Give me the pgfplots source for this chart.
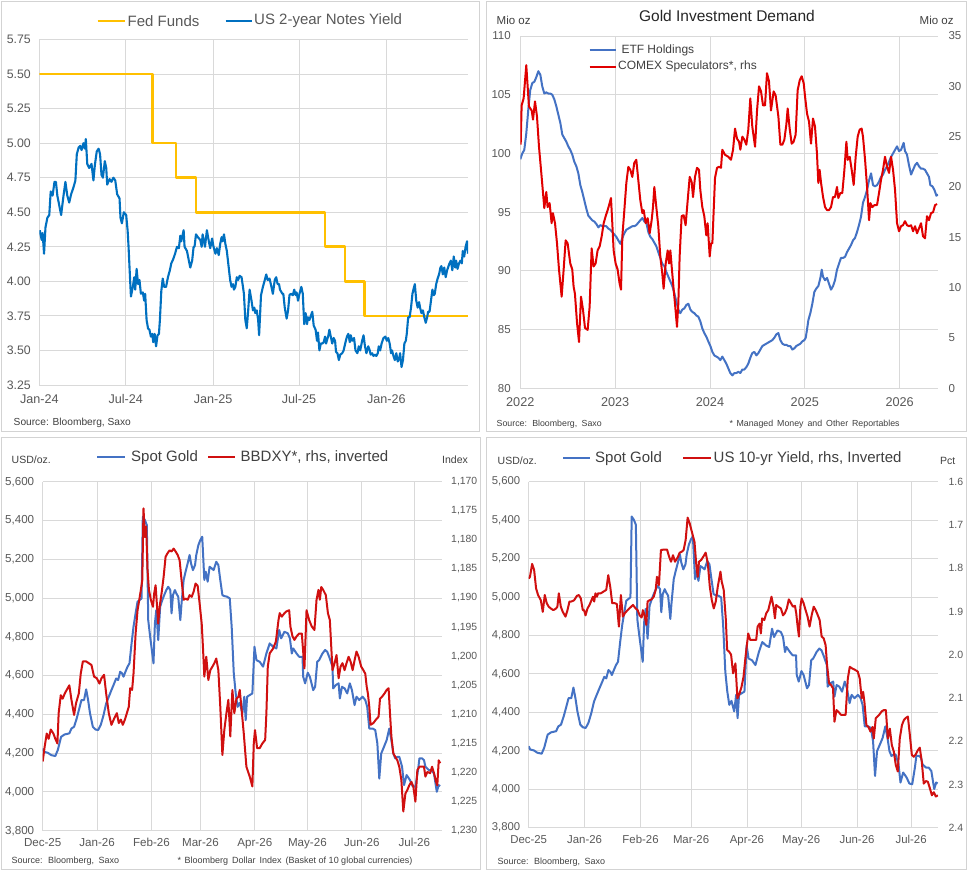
\documentclass[border=0pt]{standalone}
\usepackage{fontspec}
\setmainfont{Liberation Sans}
\usepackage{pgfplots}
\usepackage{pgfplotstable}
\pgfplotsset{compat=1.18}

\definecolor{gridgray}{HTML}{D9D9D9}
\definecolor{framegray}{HTML}{D3D3D3}
\definecolor{ticktext}{HTML}{595959}
\definecolor{labeltext}{HTML}{404040}
\definecolor{fedorange}{HTML}{FFC000}
\definecolor{twoyblue}{HTML}{0070C0}
\definecolor{etfblue}{HTML}{4472C4}
\definecolor{specred}{HTML}{E00000}
\definecolor{goldblue}{HTML}{4472C4}
\definecolor{dxyred}{HTML}{D01010}

\newcommand\fs[1]{\fontsize{#1}{#1}\selectfont}

\pgfplotsset{
  panel/.style={
    scale only axis, anchor=south west,
    axis line style={draw=none},
    major tick length=0pt, tick style={draw=none},
    grid=major, major grid style={draw=gridgray, line width=0.9pt},
    /pgf/number format/assume math mode=true,
    tick label style={color=ticktext},
    every axis plot/.append style={mark=none, line join=round},
  },
  rhs/.style={
    scale only axis, anchor=south west,
    axis x line=none, axis y line*=right,
    axis line style={draw=none},
    major tick length=0pt, tick style={draw=none},
    /pgf/number format/assume math mode=true,
    tick label style={color=ticktext},
    every axis plot/.append style={mark=none, line join=round},
  },
}

% ---------- Fed funds target (upper bound) and US 2-year yield, days since 1 Jan 2024
\pgfplotstableread{
d v
0 5.50
239 5.00
288 4.75
330 4.50
602 4.25
644 4.00
685 3.75
903 3.75
}\fedfunds

\pgfplotstableread{
d v
1 4.37
5 4.30
7 4.35
10 4.20
13 4.39
17 4.46
21 4.48
24 4.65
28 4.62
32 4.72
35 4.72
38 4.62
42 4.55
46 4.48
51 4.62
55 4.72
59 4.62
63 4.57
67 4.63
72 4.68
76 4.73
79 4.92
83 4.97
86 4.98
89 4.95
93 5.00
96 4.96
98 5.03
101 4.85
105 4.82
110 4.85
114 4.73
117 4.84
121 4.94
125 4.96
128 4.92
131 4.77
134 4.75
138 4.87
141 4.82
143 4.70
148 4.74
152 4.72
156 4.75
160 4.73
164 4.63
169 4.60
171 4.46
174 4.42
178 4.50
183 4.48
186 4.37
188 4.25
191 4.03
193 3.89
197 3.96
200 4.03
202 3.94
205 4.09
208 3.98
211 4.01
214 3.91
218 3.92
221 3.86
223 3.91
226 3.72
229 3.66
232 3.65
235 3.60
238 3.62
240 3.56
243 3.62
246 3.53
249 3.61
252 3.62
254 3.72
257 3.93
260 4.02
263 3.96
267 3.96
271 4.03
275 4.08
278 4.13
282 4.16
286 4.20
290 4.25
294 4.24
297 4.33
299 4.29
304 4.37
306 4.25
311 4.22
315 4.15
318 4.10
322 4.15
325 4.25
327 4.25
330 4.34
334 4.32
339 4.30
342 4.25
344 4.34
349 4.25
353 4.37
357 4.29
360 4.24
364 4.31
367 4.25
371 4.20
374 4.24
378 4.19
381 4.27
384 4.32
386 4.29
389 4.34
392 4.27
395 4.22
398 4.13
402 4.01
405 3.96
408 3.98
410 3.94
413 3.96
416 4.03
419 4.01
422 4.04
426 4.03
429 3.96
431 3.91
434 3.72
437 3.66
440 3.79
443 3.94
447 3.86
450 3.79
453 3.81
455 3.77
458 3.79
461 3.72
463 3.61
467 3.90
471 3.96
475 4.01
478 4.05
481 4.01
485 4.02
489 3.96
492 3.91
496 4.01
499 4.03
502 3.98
505 3.98
507 3.94
512 3.91
514 3.91
517 3.81
521 3.73
524 3.79
527 3.90
530 3.91
534 3.90
537 3.94
540 3.90
542 3.92
545 3.86
548 3.91
552 3.96
555 3.91
558 3.69
561 3.77
564 3.69
566 3.74
569 3.72
572 3.75
575 3.78
578 3.68
582 3.65
585 3.57
587 3.63
590 3.50
593 3.55
596 3.55
599 3.56
602 3.60
604 3.55
609 3.61
611 3.65
614 3.60
617 3.55
620 3.59
623 3.57
625 3.49
628 3.48
631 3.43
634 3.47
638 3.48
641 3.50
645 3.56
648 3.60
651 3.62
654 3.56
656 3.61
659 3.57
663 3.59
666 3.50
670 3.48
673 3.53
676 3.50
680 3.57
683 3.61
686 3.53
689 3.48
693 3.53
696 3.50
698 3.47
701 3.48
704 3.46
707 3.47
710 3.46
713 3.48
715 3.53
718 3.50
721 3.55
725 3.59
729 3.60
732 3.57
735 3.59
738 3.55
741 3.48
743 3.50
746 3.46
749 3.43
752 3.48
755 3.42
758 3.44
760 3.48
763 3.38
766 3.43
769 3.55
772 3.57
774 3.62
777 3.74
780 3.74
783 3.81
786 3.91
788 3.94
791 3.98
794 3.86
797 3.81
800 3.85
802 3.81
805 3.77
808 3.79
811 3.74
814 3.70
817 3.74
819 3.78
822 3.78
825 3.86
828 3.94
831 3.90
833 3.91
836 3.98
839 4.02
842 4.05
845 4.10
847 4.11
850 4.05
853 4.10
856 4.03
859 4.08
861 4.10
864 4.13
867 4.15
870 4.08
873 4.18
876 4.10
878 4.15
881 4.09
884 4.13
887 4.15
890 4.13
892 4.22
895 4.18
898 4.25
901 4.29
903 4.20
}\twoyear

% ---------- Gold ETF holdings (Mio oz) and COMEX speculator positioning (Mio oz)
\pgfplotstableread{
t v
2022.000 99.5
2022.021 100.0
2022.042 100.3
2022.063 101.7
2022.084 103.7
2022.105 105.4
2022.127 106.0
2022.148 106.1
2022.169 106.5
2022.190 107.0
2022.211 106.7
2022.232 105.7
2022.253 105.1
2022.274 105.2
2022.295 105.1
2022.316 105.1
2022.337 105.0
2022.359 104.6
2022.380 104.0
2022.401 103.3
2022.422 102.6
2022.443 101.6
2022.464 101.3
2022.485 101.0
2022.506 100.6
2022.527 100.3
2022.548 99.9
2022.569 99.3
2022.591 98.9
2022.612 98.3
2022.633 97.3
2022.654 96.7
2022.675 96.0
2022.696 95.3
2022.717 94.7
2022.738 94.5
2022.759 94.3
2022.780 94.2
2022.801 94.0
2022.823 93.7
2022.844 93.9
2022.865 93.8
2022.886 93.8
2022.907 93.8
2022.928 93.6
2022.949 93.5
2022.970 93.3
2022.991 93.1
2023.012 92.9
2023.033 92.6
2023.055 92.3
2023.076 92.8
2023.097 93.2
2023.118 93.5
2023.139 93.6
2023.160 93.7
2023.181 93.8
2023.202 93.8
2023.223 93.9
2023.244 94.1
2023.265 94.3
2023.287 94.5
2023.308 94.2
2023.329 94.1
2023.350 93.3
2023.371 92.9
2023.392 92.7
2023.413 92.4
2023.434 92.1
2023.455 91.6
2023.476 91.1
2023.497 90.6
2023.519 90.4
2023.540 89.9
2023.561 89.5
2023.582 89.1
2023.603 88.7
2023.624 88.1
2023.645 87.4
2023.666 86.7
2023.687 86.4
2023.708 86.7
2023.729 86.8
2023.751 87.1
2023.772 87.2
2023.793 86.7
2023.814 86.5
2023.835 86.4
2023.856 86.2
2023.877 86.1
2023.898 85.7
2023.919 85.1
2023.940 84.7
2023.961 84.4
2023.982 84.0
2024.004 83.6
2024.025 83.1
2024.046 82.8
2024.067 82.7
2024.088 82.6
2024.109 82.4
2024.130 82.7
2024.151 82.4
2024.172 82.1
2024.193 81.7
2024.214 81.3
2024.236 81.1
2024.257 81.3
2024.278 81.3
2024.299 81.4
2024.320 81.3
2024.341 81.6
2024.362 81.6
2024.383 81.8
2024.404 82.1
2024.425 82.6
2024.446 83.0
2024.468 83.1
2024.489 82.8
2024.510 83.0
2024.531 83.3
2024.552 83.6
2024.573 83.7
2024.594 83.8
2024.615 83.9
2024.636 84.0
2024.657 84.1
2024.678 84.3
2024.700 84.6
2024.721 84.7
2024.742 84.1
2024.763 83.8
2024.784 83.7
2024.805 83.7
2024.826 83.6
2024.847 83.6
2024.868 83.3
2024.889 83.4
2024.910 83.6
2024.932 83.7
2024.953 83.8
2024.974 84.0
2024.995 84.1
2025.009 84.3
2025.023 85.0
2025.037 85.8
2025.058 86.4
2025.079 87.2
2025.100 88.2
2025.121 88.5
2025.142 88.7
2025.164 89.4
2025.178 90.1
2025.192 89.5
2025.213 89.2
2025.234 89.4
2025.255 88.9
2025.276 88.4
2025.297 88.7
2025.318 89.2
2025.339 90.1
2025.360 90.6
2025.381 91.1
2025.403 91.1
2025.424 91.2
2025.445 91.6
2025.466 91.9
2025.487 92.2
2025.508 92.6
2025.529 92.8
2025.550 93.3
2025.571 93.9
2025.592 94.6
2025.613 95.8
2025.635 96.3
2025.656 96.9
2025.677 97.7
2025.698 98.3
2025.719 97.3
2025.740 97.2
2025.761 97.3
2025.782 97.6
2025.803 98.0
2025.824 98.2
2025.845 98.6
2025.867 98.9
2025.888 99.3
2025.909 99.7
2025.930 100.0
2025.951 100.3
2025.972 100.6
2025.993 100.2
2026.014 100.3
2026.028 100.6
2026.042 100.9
2026.056 100.2
2026.077 99.9
2026.098 99.0
2026.120 98.2
2026.141 98.6
2026.162 99.0
2026.183 99.2
2026.204 98.9
2026.225 98.7
2026.246 98.7
2026.267 98.6
2026.288 98.3
2026.309 98.0
2026.323 97.3
2026.345 97.2
2026.366 96.9
2026.387 96.4
2026.404 96.5
}\etf

\pgfplotstableread{
t v
2022.004 24.2
2022.014 28.1
2022.035 28.8
2022.063 32.1
2022.091 28.0
2022.120 27.6
2022.134 26.7
2022.155 28.5
2022.176 27.0
2022.197 24.0
2022.225 21.0
2022.253 17.9
2022.274 19.5
2022.288 18.0
2022.309 18.4
2022.330 16.4
2022.344 17.4
2022.366 16.4
2022.387 14.4
2022.408 11.8
2022.436 9.1
2022.457 11.8
2022.478 14.7
2022.499 14.4
2022.527 12.4
2022.548 11.8
2022.562 10.1
2022.576 9.4
2022.598 6.5
2022.619 4.6
2022.640 9.1
2022.661 7.8
2022.682 6.0
2022.710 5.8
2022.731 8.1
2022.752 13.9
2022.773 12.1
2022.794 12.4
2022.815 13.7
2022.837 14.1
2022.858 15.1
2022.879 16.4
2022.900 17.1
2022.921 17.7
2022.942 18.4
2022.956 18.9
2022.970 16.4
2022.984 13.7
2023.005 12.4
2023.026 11.8
2023.047 10.4
2023.062 9.8
2023.076 15.1
2023.097 17.7
2023.118 20.4
2023.139 22.0
2023.160 21.7
2023.181 21.0
2023.202 22.4
2023.223 22.7
2023.244 20.7
2023.265 18.7
2023.287 17.4
2023.301 17.7
2023.322 16.4
2023.343 16.9
2023.364 15.4
2023.385 16.7
2023.399 18.0
2023.413 20.0
2023.434 18.0
2023.455 16.1
2023.476 13.1
2023.497 11.4
2023.511 9.9
2023.533 12.4
2023.554 13.7
2023.568 12.4
2023.582 13.7
2023.596 12.1
2023.617 9.8
2023.631 8.4
2023.652 6.1
2023.666 8.4
2023.680 13.1
2023.701 17.1
2023.722 17.2
2023.743 16.2
2023.765 18.7
2023.786 21.0
2023.807 20.5
2023.821 19.0
2023.842 21.0
2023.863 21.9
2023.884 21.7
2023.898 19.7
2023.919 18.0
2023.940 17.1
2023.961 15.2
2023.975 16.4
2023.997 13.1
2024.011 14.4
2024.025 14.4
2024.039 17.7
2024.053 20.9
2024.074 21.9
2024.095 22.0
2024.116 21.9
2024.130 23.7
2024.158 23.2
2024.193 23.0
2024.221 22.7
2024.243 23.7
2024.264 25.8
2024.285 24.8
2024.306 24.5
2024.320 23.7
2024.341 25.0
2024.362 24.7
2024.383 24.2
2024.404 25.7
2024.425 28.8
2024.446 26.0
2024.475 24.0
2024.496 27.6
2024.517 30.0
2024.538 29.5
2024.559 28.1
2024.580 28.1
2024.601 31.3
2024.622 30.5
2024.643 27.6
2024.671 29.5
2024.692 29.1
2024.721 27.0
2024.742 24.2
2024.763 24.2
2024.784 24.7
2024.805 26.2
2024.819 27.8
2024.840 25.8
2024.861 24.3
2024.882 24.5
2024.903 25.2
2024.924 29.6
2024.946 30.6
2024.967 31.0
2024.988 30.3
2025.002 29.0
2025.023 27.3
2025.044 26.5
2025.065 24.3
2025.086 26.8
2025.107 26.0
2025.128 23.3
2025.142 20.4
2025.156 21.7
2025.171 20.4
2025.192 19.0
2025.213 18.0
2025.234 17.7
2025.255 17.7
2025.276 18.0
2025.297 19.0
2025.318 19.0
2025.339 20.0
2025.353 18.9
2025.374 19.4
2025.395 19.4
2025.417 21.7
2025.438 24.5
2025.452 22.7
2025.473 23.0
2025.494 21.7
2025.515 20.2
2025.536 23.0
2025.557 25.0
2025.578 25.7
2025.599 25.8
2025.613 25.0
2025.635 22.7
2025.656 20.0
2025.677 16.7
2025.691 18.4
2025.712 18.0
2025.733 18.2
2025.761 18.2
2025.782 19.4
2025.803 20.7
2025.824 21.7
2025.845 23.0
2025.867 22.0
2025.888 21.4
2025.909 23.0
2025.930 21.7
2025.951 19.7
2025.972 16.4
2025.993 15.6
2026.014 16.1
2026.035 16.2
2026.056 16.6
2026.077 16.2
2026.098 16.1
2026.120 16.2
2026.141 15.6
2026.162 16.1
2026.183 15.4
2026.204 15.9
2026.225 16.4
2026.246 15.1
2026.267 14.9
2026.288 17.1
2026.309 16.7
2026.330 17.4
2026.352 17.5
2026.373 18.2
2026.394 18.3
}\comex

% ---------- Spot gold (USD/oz), days since 1 Dec 2025
\pgfplotstableread{
d v
0 4224
0.8 4207
2.9 4202
4.8 4190
7.2 4185
8.6 4216
10.5 4284
12.4 4296
15.2 4302
16.4 4327
17.9 4336
19.4 4379
20.9 4431
22.1 4474
23.6 4474
24.8 4529
25.9 4474
27.0 4405
28.6 4336
30.1 4322
31.6 4319
33.1 4345
34.7 4396
36.2 4456
37.7 4491
39.2 4525
40.8 4560
41.9 4585
43.0 4577
44.2 4620
45.3 4611
46.1 4594
47.2 4620
48.4 4646
49.5 4663
50.7 4766
51.8 4852
53.0 4921
54.1 4981
55.2 4989
56.4 4998
57.1 5419
58.3 5402
59.4 5376
60.2 4886
61.3 4800
62.5 4714
63.2 4663
64.0 4869
64.8 4938
65.9 4783
67.0 4955
68.2 4989
69.3 5015
70.5 5041
71.6 5058
72.8 5041
73.5 4921
74.3 5015
75.4 5041
76.2 5024
77.3 5007
78.5 4886
79.2 4972
80.4 5093
81.5 5136
82.7 5179
83.8 5222
84.6 5179
85.7 5144
86.9 5170
87.6 5222
88.8 5273
89.9 5299
91.0 5316
92.2 5093
93.0 5136
94.1 5084
95.2 5161
96.4 5153
97.5 5144
99.0 5187
100.2 5170
101.3 5093
102.5 5015
103.6 5010
105.1 5007
106.7 4998
107.8 4852
109.0 4611
110.1 4508
111.2 4439
112.4 4460
113.9 4405
115.0 4491
115.8 4370
116.6 4491
119.6 4508
120.8 4749
121.9 4680
123.8 4671
125.7 4646
127.6 4714
129.5 4766
131.4 4749
133.3 4740
134.9 4835
136.0 4792
137.9 4826
139.8 4818
141.0 4792
142.1 4714
142.9 4740
144.8 4714
146.3 4697
148.2 4697
148.6 4594
149.7 4560
151.2 4615
152.4 4594
154.3 4525
155.4 4542
156.6 4671
157.7 4680
159.6 4714
161.1 4732
162.3 4723
163.4 4697
165.3 4646
165.7 4534
167.2 4551
168.8 4560
169.5 4482
170.7 4542
172.2 4534
173.7 4508
175.2 4560
176.4 4525
177.9 4448
179.0 4491
180.6 4474
182.5 4491
184.0 4474
185.1 4439
186.3 4327
188.2 4327
189.7 4319
190.9 4250
192.0 4069
193.1 4198
194.7 4233
196.2 4267
197.7 4327
198.9 4267
200.0 4198
201.1 4173
202.3 4181
203.4 4181
205.0 4130
206.1 4035
207.6 4087
209.5 4061
211.0 4030
212.6 4026
214.1 4113
214.9 4173
216.4 4173
217.5 4164
218.3 4130
220.2 4113
221.7 4113
223.2 4095
224.8 4001
225.9 4035
226.7 4030
}\gold

% ---------- Bloomberg Dollar Index (BBDXY)
\pgfplotstableread{
d v
0 1218.1
1.1 1215.6
2.3 1213.3
3.4 1214.2
4.6 1212.6
6.1 1213.3
7.2 1214.2
8.4 1215.0
9.1 1209.8
10.3 1206.7
11.4 1207.3
12.6 1206.4
13.7 1205.8
15.2 1205.0
16.4 1207.5
17.9 1210.1
19.0 1208.1
20.6 1206.4
21.7 1203.0
22.9 1200.9
24.8 1200.9
26.3 1201.2
27.8 1201.5
29.3 1203.5
30.9 1203.8
32.4 1204.7
33.5 1203.8
35.0 1203.2
36.2 1206.4
37.7 1209.8
39.2 1211.8
40.8 1210.7
42.3 1209.8
43.4 1211.5
44.6 1210.9
45.7 1211.8
46.9 1210.9
48.0 1209.8
49.1 1208.7
49.9 1205.5
51.0 1205.8
51.8 1203.0
53.0 1196.1
54.1 1192.1
55.2 1190.1
56.0 1188.6
56.8 1186.9
57.5 1174.6
58.3 1179.5
59.0 1177.7
59.8 1185.2
60.6 1188.6
61.7 1190.3
62.9 1191.5
63.6 1189.2
64.4 1187.8
65.1 1190.9
65.9 1194.4
66.7 1191.5
67.8 1189.2
69.0 1186.3
70.1 1182.9
71.2 1182.3
72.4 1181.8
73.5 1182.0
74.7 1181.5
75.8 1182.0
77.0 1182.6
78.1 1183.5
79.2 1186.9
80.4 1190.3
81.5 1190.1
82.7 1190.3
83.8 1189.5
85.0 1189.8
86.1 1188.9
87.2 1187.5
88.4 1187.9
89.5 1190.9
90.7 1194.4
91.4 1198.4
92.2 1203.5
93.3 1200.1
94.5 1204.1
95.6 1202.4
96.8 1201.8
97.9 1201.2
99.0 1200.4
100.2 1202.4
101.3 1208.7
102.5 1217.0
103.6 1212.7
104.8 1209.8
105.9 1207.5
107.0 1213.8
108.2 1205.8
109.3 1209.8
110.5 1207.3
111.6 1207.0
112.4 1205.8
113.5 1209.3
114.7 1213.3
116.2 1219.0
118.1 1220.7
119.6 1222.4
120.4 1215.0
121.1 1212.7
122.3 1215.8
123.8 1215.8
125.3 1215.0
126.9 1214.4
127.6 1209.8
128.4 1201.8
129.5 1199.5
131.4 1198.7
133.0 1197.5
134.5 1193.8
135.2 1192.6
136.4 1193.2
137.9 1192.6
139.0 1192.3
140.6 1192.1
141.3 1194.9
142.5 1196.6
143.6 1197.2
144.8 1196.6
146.3 1196.1
147.8 1196.1
149.3 1202.1
150.5 1192.1
152.0 1193.8
153.5 1194.9
155.0 1195.5
156.2 1190.3
157.3 1188.6
158.1 1190.3
158.9 1188.1
160.0 1188.6
161.5 1189.5
162.7 1192.6
163.8 1193.8
165.3 1202.4
166.5 1201.2
167.6 1199.8
168.8 1203.8
169.9 1201.8
171.0 1201.2
172.2 1202.4
173.3 1201.2
174.5 1200.1
175.6 1200.9
176.8 1202.4
177.9 1200.7
179.0 1199.2
180.2 1200.1
181.7 1201.8
182.9 1202.4
184.0 1203.0
184.8 1205.2
185.5 1206.4
186.3 1208.7
187.0 1211.8
188.6 1211.5
190.1 1210.9
191.6 1210.4
192.4 1207.3
193.5 1207.0
195.0 1206.4
196.2 1205.8
197.3 1205.5
198.1 1209.8
198.9 1213.8
200.0 1216.7
201.1 1217.3
202.3 1217.9
203.4 1219.0
204.6 1221.3
205.7 1226.7
206.9 1223.6
208.0 1223.0
209.1 1222.2
210.3 1221.6
211.4 1222.4
212.6 1225.0
213.7 1219.6
214.9 1219.0
216.4 1219.0
217.5 1219.0
218.3 1220.7
219.4 1219.9
221.0 1220.1
222.1 1219.0
223.2 1220.1
224.4 1221.6
225.1 1222.2
225.9 1217.9
226.7 1218.4
}\bbdxy

% ---------- US 10-year yield (pct)
\pgfplotstableread{
d v
0 1.824
0.7 1.820
1.9 1.790
3.0 1.804
4.1 1.847
5.2 1.862
6.7 1.874
7.8 1.901
8.9 1.862
10.0 1.881
11.1 1.889
12.2 1.893
13.7 1.897
15.2 1.893
15.9 1.889
16.7 1.858
17.8 1.889
18.9 1.901
20.4 1.912
21.5 1.897
22.6 1.877
23.7 1.877
25.2 1.874
26.7 1.864
27.8 1.862
28.9 1.870
30.0 1.897
30.7 1.897
31.5 1.909
32.6 1.893
33.7 1.885
34.8 1.874
35.6 1.866
36.3 1.877
37.0 1.858
37.8 1.866
38.5 1.858
40.0 1.858
41.5 1.854
43.0 1.850
44.1 1.816
45.2 1.843
46.3 1.881
47.8 1.881
48.9 1.883
50.0 1.935
51.1 1.862
52.2 1.912
53.3 1.904
54.8 1.897
56.3 1.891
57.8 1.885
59.3 1.893
60.4 1.897
61.5 1.909
62.6 1.914
63.3 1.897
64.4 1.912
65.2 1.931
65.9 1.877
67.0 1.874
68.1 1.872
69.3 1.866
70.4 1.850
71.1 1.820
72.2 1.839
73.3 1.758
74.8 1.757
76.7 1.757
77.8 1.773
78.9 1.785
80.0 1.770
81.1 1.785
82.6 1.775
83.7 1.764
84.8 1.762
85.9 1.758
87.0 1.735
88.1 1.683
89.3 1.697
90.7 1.720
91.9 1.739
93.0 1.797
93.7 1.820
94.4 1.785
95.6 1.781
97.0 1.772
98.1 1.764
99.3 1.789
100.4 1.843
101.5 1.874
102.6 1.893
103.7 1.877
104.8 1.843
106.3 1.808
107.0 1.831
108.1 1.850
109.3 1.920
110.0 1.989
111.1 1.993
112.2 2.000
113.3 2.043
114.6 2.020
115.7 2.101
116.9 2.089
118.0 2.074
119.1 2.051
120.2 2.005
121.7 1.951
122.8 1.966
124.6 1.966
126.1 1.966
126.9 1.935
128.0 1.928
128.7 1.951
129.4 1.916
130.6 1.920
131.7 1.904
132.8 1.897
133.5 1.885
134.6 1.866
135.7 1.889
136.5 1.916
137.2 1.885
138.3 1.889
139.8 1.893
141.0 1.909
142.0 1.904
143.1 1.893
144.2 1.872
145.4 1.881
146.5 1.889
147.6 1.887
148.3 1.904
149.1 1.935
149.8 1.958
150.6 1.889
151.3 1.870
152.4 1.881
153.5 1.897
154.6 1.912
155.7 1.935
156.9 1.908
158.0 1.889
159.1 1.897
160.2 1.908
161.3 1.920
162.4 1.958
163.5 1.962
164.6 1.978
165.4 2.024
166.5 2.066
167.6 2.070
168.7 2.078
169.5 2.155
170.6 2.128
171.7 2.132
173.1 2.139
174.3 2.139
175.7 2.139
176.9 2.055
178.0 2.028
179.4 2.032
180.9 2.035
182.4 2.039
183.5 2.055
184.6 2.101
185.4 2.086
186.1 2.109
187.2 2.163
188.3 2.167
189.5 2.178
190.6 2.167
191.3 2.194
192.4 2.147
194.3 2.139
195.7 2.131
196.9 2.128
198.0 2.128
199.1 2.194
200.2 2.171
201.3 2.209
202.4 2.224
203.5 2.255
204.6 2.270
205.7 2.194
206.9 2.163
208.0 2.151
209.1 2.146
210.2 2.143
211.3 2.186
212.4 2.232
213.5 2.236
214.6 2.230
215.7 2.221
216.8 2.215
217.9 2.247
219.0 2.298
220.2 2.292
221.3 2.294
222.4 2.309
223.5 2.325
224.6 2.318
225.7 2.328
226.8 2.325
}\tenyear

\begin{document}
\begin{tikzpicture}[x=1pt,y=1pt]
\path[use as bounding box] (0,0) rectangle (967,870);
\fill[white] (0,0) rectangle (967,870);

% panel frames
\draw[framegray, line width=0.8pt] (1,439) rectangle (479,869);
\draw[framegray, line width=0.8pt] (486,439) rectangle (966,869);
\draw[framegray, line width=0.8pt] (1,1) rectangle (480,433);
\draw[framegray, line width=0.8pt] (486,1) rectangle (966,433);

% ================= top left: policy rate vs 2-year yield
\begin{axis}[panel, at={(39.3pt,485pt)}, width=428.7pt, height=345.5pt,
  xmin=0, xmax=903, ymin=3.25, ymax=5.75,
  xtick={0,182,366,547,731}, xticklabels={Jan-24,Jul-24,Jan-25,Jul-25,Jan-26},
  ytick={3.25,3.5,3.75,4,4.25,4.5,4.75,5,5.25,5.5,5.75},
  yticklabel style={font=\fs{12.3}, xshift=-5pt,
    /pgf/number format/fixed, /pgf/number format/fixed zerofill, /pgf/number format/precision=2},
  xticklabel style={font=\fs{12.6}, yshift=-6pt},
]
\addplot[const plot, fedorange, line width=2.6pt] table {\fedfunds};
\addplot[twoyblue, line width=2.1pt] table {\twoyear};
\end{axis}
\draw[fedorange, line width=2.6pt] (97.7,849) -- (125,849);
\node[anchor=west, inner sep=0, text=ticktext, font=\fs{15}] at (127.5,849) {Fed Funds};
\draw[twoyblue, line width=2.4pt] (225.7,849) -- (251.7,849);
\node[anchor=west, inner sep=0, text=ticktext, font=\fs{15}] at (254,849) {US 2-year Notes Yield};
\node[anchor=west, inner sep=0, text=labeltext, font=\fs{10.2}] at (13.5,447) {Source: Bloomberg, Saxo};

% ================= top right: gold investment demand
\begin{axis}[panel, at={(520.3pt,481.7pt)}, width=417.7pt, height=352.3pt,
  xmin=2022, xmax=2026.404, ymin=80, ymax=110,
  xtick={2022,2023,2024,2025,2026},
  ytick={80,85,90,95,100,105,110},
  xticklabel style={font=\fs{12.7}, yshift=-6pt, /pgf/number format/1000 sep={}},
  yticklabel style={font=\fs{11.5}, xshift=-6pt},
]
\addplot[etfblue, line width=2pt] table {\etf};
\end{axis}
\begin{axis}[rhs, at={(520.3pt,481.7pt)}, width=417.7pt, height=352.3pt,
  xmin=2022, xmax=2026.404, ymin=0, ymax=35,
  ytick={0,5,10,15,20,25,30,35},
  yticklabel style={font=\fs{11.5}, xshift=7pt},
]
\addplot[specred, line width=2pt] table {\comex};
\end{axis}
\node[anchor=center, inner sep=0, text=black!85, font=\fs{15.5}] at (727,854.3) {Gold Investment Demand};
\node[anchor=west, inner sep=0, text=labeltext, font=\fs{11.5}] at (496.5,849.5) {Mio oz};
\node[anchor=west, inner sep=0, text=labeltext, font=\fs{11.5}] at (919.5,850) {Mio oz};
\draw[etfblue, line width=2.2pt] (589.7,820) -- (615.7,820);
\node[anchor=west, inner sep=0, text=labeltext, font=\fs{12}] at (621.3,820) {ETF Holdings};
\draw[specred, line width=2.2pt] (589.7,803.3) -- (615.7,803.3);
\node[anchor=west, inner sep=0, text=labeltext, font=\fs{12}] at (618,803.3) {COMEX Speculators*, rhs};
\node[anchor=west, inner sep=0, text=labeltext, font=\fs{8.8}] at (496.5,445.7) {Source:\hspace{2pt} Bloomberg,\hspace{2pt} Saxo};
\node[anchor=west, inner sep=0, text=labeltext, font=\fs{8.8}] at (729.5,445.7) {*\hspace{1pt} Managed\hspace{1.5pt} Money\hspace{1.5pt} and\hspace{1.5pt} Other\hspace{1.5pt} Reportables};

% ================= bottom left: spot gold vs dollar index
\begin{axis}[panel, at={(42.7pt,39.3pt)}, width=399pt, height=349pt,
  xmin=0, xmax=227.6, ymin=3800, ymax=5600,
  xtick={0,31,62,90,121,151,182,212},
  xticklabels={Dec-25,Jan-26,Feb-26,Mar-26,Apr-26,May-26,Jun-26,Jul-26},
  ytick={3800,4000,4200,4400,4600,4800,5000,5200,5400,5600},
  xticklabel style={font=\fs{11.6}, yshift=-4pt},
  yticklabel style={font=\fs{11.6}, xshift=-5pt, /pgf/number format/1000 sep={,}},
]
\addplot[goldblue, line width=2pt] table {\gold};
\end{axis}
\begin{axis}[rhs, at={(42.7pt,39.3pt)}, width=399pt, height=349pt,
  xmin=0, xmax=227.6, ymin=1170, ymax=1230, y dir=reverse,
  ytick={1170,1175,1180,1185,1190,1195,1200,1205,1210,1215,1220,1225,1230},
  yticklabel style={font=\fs{10.4}, xshift=6pt, /pgf/number format/1000 sep={,}},
]
\addplot[dxyred, line width=2pt] table {\bbdxy};
\end{axis}
\node[anchor=west, inner sep=0, text=labeltext, font=\fs{10.5}] at (11.5,410) {USD/oz.};
\node[anchor=west, inner sep=0, text=labeltext, font=\fs{10.5}] at (442,410) {Index};
\draw[goldblue, line width=2.2pt] (97,412.7) -- (125,412.7);
\node[anchor=west, inner sep=0, text=labeltext, font=\fs{15}] at (131,412.7) {Spot Gold};
\draw[dxyred, line width=2.2pt] (208,412.7) -- (235,412.7);
\node[anchor=west, inner sep=0, text=labeltext, font=\fs{15}] at (240.5,412.7) {BBDXY*, rhs, inverted};
\node[anchor=west, inner sep=0, text=labeltext, font=\fs{9}] at (11.5,9.3) {Source:\hspace{2pt} Bloomberg,\hspace{2pt} Saxo};
\node[anchor=west, inner sep=0, text=labeltext, font=\fs{9}] at (177.5,9.3) {*\hspace{1pt} Bloomberg\hspace{1.5pt} Dollar\hspace{1.5pt} Index\hspace{1.5pt} (Basket of 10 global currencies)};

% ================= bottom right: spot gold vs US 10-year yield
\begin{axis}[panel, at={(528.7pt,42.3pt)}, width=409.3pt, height=346pt,
  xmin=0, xmax=226.9, ymin=3800, ymax=5600,
  xtick={0,31,62,90,121,151,182,212},
  xticklabels={Dec-25,Jan-26,Feb-26,Mar-26,Apr-26,May-26,Jun-26,Jul-26},
  ytick={3800,4000,4200,4400,4600,4800,5000,5200,5400,5600},
  xticklabel style={font=\fs{11.4}, yshift=-4pt},
  yticklabel style={font=\fs{11.3}, xshift=-5pt, /pgf/number format/1000 sep={,}},
]
\addplot[goldblue, line width=2pt] table {\gold};
\end{axis}
\begin{axis}[rhs, at={(528.7pt,42.3pt)}, width=409.3pt, height=346pt,
  xmin=0, xmax=226.9, ymin=1.6, ymax=2.4, y dir=reverse,
  ytick={1.6,1.7,1.8,1.9,2.0,2.1,2.2,2.3,2.4},
  yticklabel style={font=\fs{10.5}, xshift=7pt,
    /pgf/number format/fixed, /pgf/number format/fixed zerofill, /pgf/number format/precision=1},
]
\addplot[dxyred, line width=2pt] table {\tenyear};
\end{axis}
\node[anchor=west, inner sep=0, text=labeltext, font=\fs{10.5}] at (497.5,409) {USD/oz.};
\node[anchor=west, inner sep=0, text=labeltext, font=\fs{10.5}] at (940,409) {Pct};
\draw[goldblue, line width=2.2pt] (563,411.7) -- (589.7,411.7);
\node[anchor=west, inner sep=0, text=labeltext, font=\fs{15}] at (595,411.7) {Spot Gold};
\draw[dxyred, line width=2.2pt] (683,411.7) -- (711.3,411.7);
\node[anchor=west, inner sep=0, text=labeltext, font=\fs{15}] at (713.5,411.7) {US 10-yr Yield, rhs, Inverted};
\node[anchor=west, inner sep=0, text=labeltext, font=\fs{9}] at (497.5,8.3) {Source:\hspace{2pt} Bloomberg,\hspace{2pt} Saxo};
\end{tikzpicture}
\end{document}
